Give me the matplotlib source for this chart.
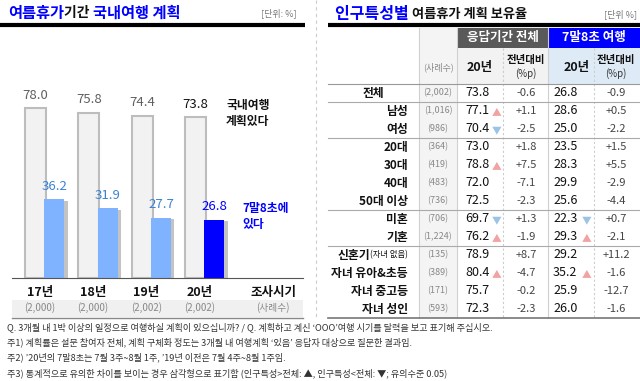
import matplotlib
matplotlib.use("Agg")
import matplotlib.pyplot as plt
import matplotlib.patheffects as pe
from matplotlib.patches import Rectangle

plt.rcParams['font.family'] = ['Noto Sans CJK KR', 'DejaVu Sans']

# ---- left chart data
years = ['17년', '18년', '19년', '20년']
samples = ['(2,000)', '(2,000)', '(2,002)', '(2,002)']
plan_rate = [78.0, 75.8, 74.4, 73.8]
peak_rate = [36.2, 31.9, 27.7, 26.8]

# ---- right table data
groups = ['전체', '남성', '여성', '20대', '30대', '40대', '50대 이상',
          '미혼', '기혼', '신혼기', '자녀 유아&초등', '자녀 중고등', '자녀 성인']
counts = ['(2,002)', '(1,016)', '(986)', '(364)', '(419)', '(483)', '(736)',
          '(706)', '(1,224)', '(135)', '(389)', '(171)', '(593)']
all_20 = [73.8, 77.1, 70.4, 73.0, 78.8, 72.0, 72.5, 69.7, 76.2, 78.9, 80.4, 75.7, 72.3]
all_diff = [-0.6, 1.1, -2.5, 1.8, 7.5, -7.1, -2.3, 1.3, -1.9, 8.7, -4.7, -0.2, -2.3]
peak_20 = [26.8, 28.6, 25.0, 23.5, 28.3, 29.9, 25.6, 22.3, 29.3, 29.2, 35.2, 25.9, 26.0]
peak_diff = [-0.9, 0.5, -2.2, 1.5, 5.5, -2.9, -4.4, 0.7, -2.1, 11.2, -1.6, -12.7, -1.6]
all_sig = ['', '▲', '▼', '', '▲', '', '', '▼', '▲', '', '▲', '', '']
peak_sig = ['', '', '', '', '', '', '', '▼', '▲', '', '▲', '', '']
group_breaks = [0, 2, 6, 8]   # line below these rows

notes = [
    "Q. 3개월 내 1박 이상의 일정으로 여행하실 계획이 있으십니까? / Q. 계획하고 계신 ‘OOO’여행 시기를 달력을 보고 표기해 주십시오.",
    "주1) 계획률은 설문 참여자 전체, 계획 구체화 정도는 3개월 내 여행계획 ‘있음’ 응답자 대상으로 질문한 결과임.",
    "주2) ’20년의 7말8초는 7월 3주~8월 1주, ’19년 이전은 7월 4주~8월 1주임.",
    "주3) 통계적으로 유의한 차이를 보이는 경우 삼각형으로 표기함 (인구특성>전체: ▲, 인구특성<전체: ▼; 유의수준 0.05)",
]

BLUE = '#0000ff'
LIGHT_BLUE = '#80b3ff'
W, H = 640, 381

fig = plt.figure(figsize=(6.4, 3.81), dpi=100)
bg = fig.add_axes([0, 0, 1, 1])
bg.set_xlim(0, W)
bg.set_ylim(H, 0)
bg.axis('off')
renderer = fig.canvas.get_renderer()


def seq_text(x, y, parts):
    # draw several styled pieces one after another
    for s, kw in parts:
        t = bg.text(x, y, s, va='center', ha='left', **kw)
        bb = t.get_window_extent(renderer=renderer)
        x += bb.width * W / fig.bbox.width


# ---- titles
seq_text(8, 13, [('여름휴가', dict(color=BLUE, fontsize=11, fontweight='bold')),
                 ('기간 ', dict(color='#111', fontsize=10, fontweight='bold')),
                 ('국내여행 계획', dict(color=BLUE, fontsize=11, fontweight='bold'))])
bg.text(297, 13, '[단위: %]', ha='right', va='center', fontsize=6.5, color='#777')
bg.plot([0, 305], [25, 25], color='black', lw=3, solid_capstyle='butt')

seq_text(335, 14, [('인구특성별 ', dict(color=BLUE, fontsize=11.5, fontweight='bold')),
                   ('여름휴가 계획 보유율', dict(color='#111', fontsize=9.5, fontweight='bold'))])
bg.text(637, 14, '[단위 %]', ha='right', va='center', fontsize=6.5, color='#777')
bg.plot([328, 640], [25, 25], color='black', lw=3, solid_capstyle='butt')

bg.plot([316, 316], [0, 318], color='#cccccc', lw=0.8, ls=(0, (3, 3)))

# ---- bar chart
bg.add_patch(Rectangle((12, 300), 291, 17, color='#f0f0f0', lw=0))
bg.plot([12, 303], [318, 318], color='#888', lw=1)

ax = fig.add_axes([12 / W, (H - 278) / H, 291 / W, 190 / H])
ax.patch.set_alpha(0)
ax.set_xlim(-0.44, 5.01)
ax.set_ylim(0, 190 / 2.179)
for s in ['top', 'right', 'left']:
    ax.spines[s].set_visible(False)
ax.spines['bottom'].set_color('#555')
ax.set_xticks([])
ax.set_yticks([])

xs = list(range(len(years)))
ax.bar(xs, plan_rate, width=0.39, color='#f2f2f2', edgecolor='#bdbdbd', lw=1.5)
bx = [x + 0.35 for x in xs]
bars = ax.bar(bx, peak_rate, width=0.375, color=[LIGHT_BLUE] * 3 + [BLUE], lw=0)
for b in bars:
    b.set_path_effects([pe.SimplePatchShadow(offset=(2.5, -1), shadow_rgbFace='#888', alpha=0.5),
                        pe.Normal()])

for i, v in enumerate(plan_rate):
    ax.text(xs[i], v + 3, f'{v:.1f}', ha='center', va='bottom', fontsize=9.5,
            color='#111' if i == 3 else '#606060')
for i, v in enumerate(peak_rate):
    ax.text(bx[i], v + 3, f'{v:.1f}', ha='center', va='bottom', fontsize=9.5,
            color=BLUE if i == 3 else '#3b82d6')

ax.text(3.57, 82, '국내여행\n계획있다', ha='left', va='top', fontsize=8.5,
        fontweight='bold', color='#111', linespacing=1.3)
ax.text(3.87, 35, '7말8초에\n있다', ha='left', va='top', fontsize=8.5,
        fontweight='bold', color=BLUE, linespacing=1.3)

tr = ax.get_xaxis_transform()
for i in xs:
    ax.text(i + 0.08, -0.075, years[i], transform=tr, ha='center', va='center',
            fontsize=9, fontweight='bold', color='#111')
    ax.text(i + 0.08, -0.158, samples[i], transform=tr, ha='center', va='center',
            fontsize=7, color='#888')
ax.text(4.45, -0.075, '조사시기', transform=tr, ha='center', va='center',
        fontsize=9, fontweight='bold', color='#111')
ax.text(4.45, -0.158, '(사례수)', transform=tr, ha='center', va='center',
        fontsize=7, color='#888')

# ---- table
bg.add_patch(Rectangle((419, 28), 38, 290, color='#f4f4f4', lw=0))
bg.add_patch(Rectangle((458, 28), 90, 20, color='#595959', lw=0))
bg.add_patch(Rectangle((549, 28), 91, 20, color=BLUE, lw=0))
bg.add_patch(Rectangle((458, 48), 90, 36, color='#f2f2f2', lw=0))
bg.add_patch(Rectangle((549, 48), 91, 36, color='#deebf7', lw=0))
bg.text(503, 38, '응답기간 전체', ha='center', va='center', color='white',
        fontsize=9, fontweight='bold')
bg.text(594, 38, '7말8초 여행', ha='center', va='center', color='white',
        fontsize=9, fontweight='bold')
bg.text(438, 67, '(사례수)', ha='center', va='center', fontsize=6.5, color='#888')
for cx in [480, 577]:
    bg.text(cx, 67, '20년', ha='center', va='center', fontsize=9, fontweight='bold', color='#111')
for cx in [526, 616]:
    bg.text(cx, 60, '전년대비', ha='center', va='center', fontsize=7.5, fontweight='bold', color='#111')
    bg.text(cx, 74, '(%p)', ha='center', va='center', fontsize=7, color='#333')

for x in [419, 457, 548]:
    bg.plot([x, x], [28, 318], color='#d0d0d0', lw=0.8)
for x in [503, 594]:
    bg.plot([x, x], [48, 318], color='#cccccc', lw=0.8, ls=(0, (2, 2)))
bg.plot([328, 640], [84, 84], color='#999', lw=0.8)
for r in group_breaks:
    y = 84 + 18 * (r + 1)
    bg.plot([328, 640], [y, y], color='#aaa', lw=0.8)
bg.plot([328, 640], [318, 318], color='#777', lw=1.2)


def fmt_diff(v):
    return f'+{v:.1f}' if v > 0 else f'-{abs(v):.1f}'


for i, g in enumerate(groups):
    y = 93 + 18 * i
    if g == '전체':
        bg.text(373, y, g, ha='center', va='center', fontsize=8.5, fontweight='bold', color='#111')
    elif g == '신혼기':
        t = bg.text(408, y, '(자녀 없음)', ha='right', va='center', fontsize=6, color='#111')
        bb = t.get_window_extent(renderer=renderer)
        bg.text(408 - bb.width * W / fig.bbox.width, y, g, ha='right', va='center',
                fontsize=8.5, fontweight='bold', color='#111')
    else:
        bg.text(408, y, g, ha='right', va='center', fontsize=8.5, fontweight='bold', color='#111')
    bg.text(438, y, counts[i], ha='center', va='center', fontsize=6.5, color='#888')
    bg.text(465, y, f'{all_20[i]:.1f}', ha='left', va='center', fontsize=9, color='#111')
    bg.text(526, y, fmt_diff(all_diff[i]), ha='center', va='center', fontsize=8, color='#444')
    bg.text(553, y, f'{peak_20[i]:.1f}', ha='left', va='center', fontsize=9, color='#111')
    bg.text(616, y, fmt_diff(peak_diff[i]), ha='center', va='center', fontsize=8, color='#444')
    for sig, sx in [(all_sig[i], 497), (peak_sig[i], 587)]:
        if sig:
            bg.text(sx, y + 1, sig, ha='center', va='center', fontsize=7,
                    color='#f2a2a2' if sig == '▲' else '#9cc3e6')

# ---- notes
for k, line in enumerate(notes):
    bg.text(7, 327 + 15.3 * k, line, ha='left', va='center', fontsize=6.6, color='#333')

fig.savefig('out.png', dpi=100)
